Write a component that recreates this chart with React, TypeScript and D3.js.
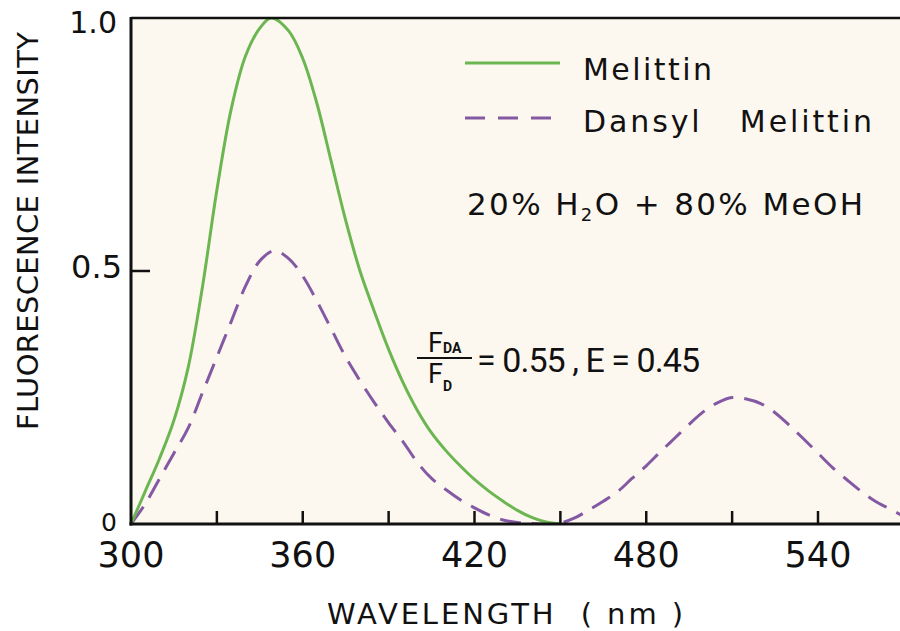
import React from 'react';
import * as d3 from 'd3';

// Melittin (solid green) emission spectrum
const melittinNm = [300, 305, 310, 315, 320, 325, 330, 335, 340, 345, 349, 355, 360, 365, 370, 375, 380, 385, 390, 395, 400, 405, 410, 415, 420, 425, 430, 435, 440, 445, 450];
const melittinI = [0, 0.065, 0.13, 0.205, 0.31, 0.47, 0.66, 0.82, 0.925, 0.98, 1.0, 0.975, 0.92, 0.83, 0.715, 0.6, 0.5, 0.42, 0.345, 0.28, 0.225, 0.18, 0.145, 0.115, 0.088, 0.065, 0.045, 0.027, 0.013, 0.004, 0];

// Dansyl Melittin (dashed purple) emission spectrum
const dansylNm = [300, 305, 310, 315, 320, 325, 330, 335, 340, 345, 350, 355, 360, 365, 370, 375, 380, 385, 390, 395, 400, 405, 410, 415, 420, 425, 430, 435, 440, 445, 450, 455, 460, 465, 470, 475, 480, 485, 490, 495, 500, 505, 510, 515, 520, 525, 530, 535, 540, 545, 550, 555, 560, 565, 570];
const dansylI = [0, 0.04, 0.09, 0.14, 0.19, 0.26, 0.33, 0.4, 0.47, 0.52, 0.54, 0.525, 0.49, 0.44, 0.385, 0.33, 0.283, 0.24, 0.2, 0.163, 0.122, 0.09, 0.068, 0.048, 0.032, 0.018, 0.008, 0.003, 0.001, 0, 0.002, 0.012, 0.028, 0.045, 0.064, 0.09, 0.115, 0.143, 0.17, 0.197, 0.222, 0.24, 0.25, 0.247, 0.238, 0.22, 0.195, 0.168, 0.14, 0.112, 0.088, 0.065, 0.045, 0.03, 0.015];

const xTicks = [330, 360, 390, 420, 450, 480, 510, 540];
const xTickLabels = ['300', '360', '420', '480', '540'];
const yTickLabels = ['0', '0.5', '1.0'];

const W = 900;
const H = 631;
const left = 131;
const top = 18;
const bottom = 524;

const GREEN = '#6cb652';
const PURPLE = '#8459a3';
const FONT = '"DejaVu Sans", sans-serif';
const FONT2 = 'Roboto, "Liberation Sans", sans-serif';

export default function App() {
  const x = d3.scaleLinear().domain([300, 570]).range([left, left + 270 * 2.8625]);
  const y = d3.scaleLinear().domain([0, 1]).range([bottom, top]);

  const line = d3
    .line<[number, number]>()
    .x((d) => x(d[0]))
    .y((d) => y(d[1]))
    .curve(d3.curveCatmullRom.alpha(0.5));

  const gPath = line(melittinNm.map((n, i) => [n, melittinI[i]] as [number, number])) || '';
  const dPath = line(dansylNm.map((n, i) => [n, dansylI[i]] as [number, number])) || '';

  return (
    <svg
      width={W}
      height={H}
      style={{ position: 'absolute', left: 0, top: 0, background: '#ffffff' }}
    >
      <defs>
        <clipPath id="plotclip">
          <rect x={left} y={top} width={W - left} height={bottom - top} />
        </clipPath>
      </defs>
      <rect x={left} y={top} width={W - left} height={bottom - top} fill="#fdf8ef" />

      <g clipPath="url(#plotclip)">
        <path d={dPath} fill="none" stroke={PURPLE} strokeWidth={3} strokeDasharray="21 11" />
        <path d={gPath} fill="none" stroke={GREEN} strokeWidth={3} />
      </g>

      {/* axes */}
      <line x1={left} y1={top} x2={W} y2={top} stroke="#111" strokeWidth={2.5} />
      <line x1={left} y1={top - 1} x2={left} y2={bottom + 1.5} stroke="#111" strokeWidth={3} />
      <line x1={left - 1.5} y1={bottom} x2={W} y2={bottom} stroke="#111" strokeWidth={3} />

      {xTicks.map((t) => (
        <line key={t} x1={x(t)} x2={x(t)} y1={bottom} y2={bottom - 13} stroke="#111" strokeWidth={2.5} />
      ))}
      <line x1={left} x2={left + 19} y1={y(0.5)} y2={y(0.5)} stroke="#111" strokeWidth={2.5} />

      {xTickLabels.map((t) => (
        <text key={t} x={x(+t)} y={567} textAnchor="middle" fontFamily={FONT} fontSize={35} fill="#111">
          {t}
        </text>
      ))}

      <text x={117} y={531} textAnchor="end" fontFamily={FONT} fontSize={25} fill="#111">
        {yTickLabels[0]}
      </text>
      <text x={122} y={278} textAnchor="end" fontFamily={FONT} fontSize={32} fill="#111">
        {yTickLabels[1]}
      </text>
      <text x={117} y={33} textAnchor="end" fontFamily={FONT} fontSize={30} fill="#111">
        {yTickLabels[2]}
      </text>

      {/* axis titles */}
      <text
        transform="translate(38,231) rotate(-90)"
        textAnchor="middle"
        fontFamily={FONT}
        fontSize={29}
        fill="#111"
        textLength={398}
      >
        FLUORESCENCE INTENSITY
      </text>
      <text x={505} y={624} textAnchor="middle" fontFamily={FONT} fontSize={29} fill="#111" textLength={356} style={{ whiteSpace: 'pre' }}>
        {'WAVELENGTH  ( nm )'}
      </text>

      {/* legend */}
      <line x1={465} x2={560} y1={63} y2={63} stroke={GREEN} strokeWidth={3} />
      <line x1={465} x2={560} y1={118} y2={118} stroke={PURPLE} strokeWidth={3} strokeDasharray="20 13" />
      <text x={583} y={80} fontFamily={FONT} fontSize={30} fill="#111" textLength={129}>
        Melittin
      </text>
      <text x={583} y={132} fontFamily={FONT} fontSize={30} fill="#111" textLength={289} style={{ whiteSpace: 'pre' }}>
        {'Dansyl   Melittin'}
      </text>
      <text x={467} y={215} fontFamily={FONT} fontSize={31} fill="#111" textLength={396}>
        20% H<tspan fontSize={18} dy={6}>2</tspan>
        <tspan dy={-6}>O + 80% MeOH</tspan>
      </text>

      {/* FRET annotation */}
      <text x={428} y={352} fontFamily={FONT2} fontSize={27} fill="#111">
        F<tspan fontSize={14} fontWeight={700} dy={1}>DA</tspan>
      </text>
      <line x1={417} x2={472} y1={358} y2={358} stroke="#111" strokeWidth={2} />
      <text x={428} y={383} fontFamily={FONT2} fontSize={27} fill="#111">
        F<tspan fontSize={14} fontWeight={700} dy={8}>D</tspan>
      </text>
      <text x={477} y={372} fontFamily={FONT2} fontSize={34} fill="#111" textLength={223}>
        = 0.55 , E = 0.45
      </text>
    </svg>
  );
}
